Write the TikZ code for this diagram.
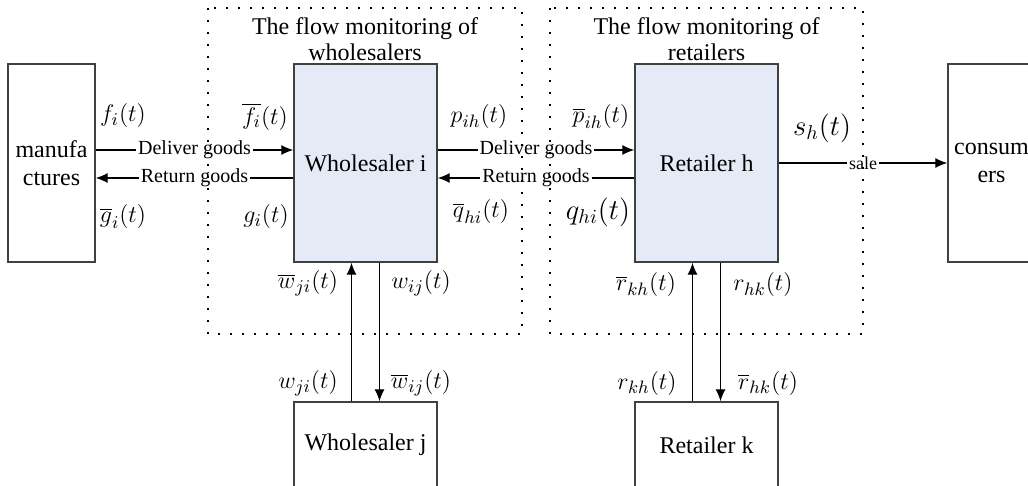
\documentclass[tikz,border=0pt]{standalone}
\usepackage{fontspec}
\setmainfont{Liberation Serif}
\usetikzlibrary{arrows.meta}

\definecolor{boxblue}{RGB}{228,235,246}
\definecolor{boxline}{RGB}{64,64,64}

\tikzset{
  unit/.style={draw=boxline,line width=0.7pt,inner sep=0pt,minimum width=71.5pt,minimum height=99pt,align=center,font=\fontsize{12}{14}\selectfont},
  endbox/.style={unit,minimum width=43.5pt},
  monbox/.style={unit,fill=boxblue},
  lowbox/.style={unit,minimum height=43pt},
  flow/.style={line width=0.6pt,-{Latex[length=6pt,width=5pt]}},
  flowtxt/.style={fill=white,inner sep=1pt,font=\fontsize{10}{12}\selectfont},
  var/.style={inner sep=0pt,font=\fontsize{13}{15}\selectfont},
  zone/.style={line width=0.9pt,dash pattern=on 0.9pt off 5.1pt},
  zonetitle/.style={align=center,font=\fontsize{12}{13}\selectfont}
}

\begin{document}
\begin{tikzpicture}[x=0.5pt,y=-0.5pt]
\useasboundingbox (0,0) rectangle (1028,486);

% boxes
\node[endbox] (manu) at (51.5,163) {manufa\\ctures};
\node[monbox] (wi) at (365.5,163) {Wholesaler i};
\node[monbox] (rh) at (706.5,163) {Retailer h};
\node[endbox] (cons) at (991.5,163) {consum\\ers};
\node[lowbox] (wj) at (365.5,445) {Wholesaler j};
\node[lowbox] (rk) at (706.5,445) {Retailer k};

% goods flows
\draw[flow] ([yshift=6.5pt]manu.east) -- node[flowtxt]{Deliver goods} ([yshift=6.5pt]wi.west);
\draw[flow] ([yshift=-7.5pt]wi.west) -- node[flowtxt]{Return goods} ([yshift=-7.5pt]manu.east);
\draw[flow] ([yshift=6.5pt]wi.east) -- node[flowtxt]{Deliver goods} ([yshift=6.5pt]rh.west);
\draw[flow] ([yshift=-7.5pt]rh.west) -- node[flowtxt]{Return goods} ([yshift=-7.5pt]wi.east);
\draw[flow] (rh.east) -- node[flowtxt,font=\fontsize{9}{11}\selectfont]{sale} (cons.west);

% vertical flows
\draw[flow] ([xshift=-7pt]wj.north) -- ([xshift=-7pt]wi.south);
\draw[flow] ([xshift=7pt]wi.south) -- ([xshift=7pt]wj.north);
\draw[flow] ([xshift=-7pt]rk.north) -- ([xshift=-7pt]rh.south);
\draw[flow] ([xshift=7pt]rh.south) -- ([xshift=7pt]rk.north);

% flow variables
\node[var] (fi) at (123,116) {$f_i(t)$};
\node[var] (fib) at (265,117) {$\overline{f_i}(t)$};
\node[var] (gib) at (123,217) {$\overline{g}_i(t)$};
\node[var] (gi) at (266,217) {$g_i(t)$};
\node[var] (pih) at (479,117) {$p_{ih}(t)$};
\node[var] (pihb) at (601,117) {$\overline{p}_{ih}(t)$};
\node[var] (qhib) at (481,212) {$\overline{q}_{hi}(t)$};
\node[var,font=\fontsize{14}{16}\selectfont] (qhi) at (598,212) {$q_{hi}(t)$};
\node[var,font=\fontsize{14}{16}\selectfont] (sh) at (822,128) {$s_h(t)$};
\node[var] (wjib) at (308,283) {$\overline{w}_{ji}(t)$};
\node[var] (wij) at (421,283) {$w_{ij}(t)$};
\node[var] (wji) at (308,383) {$w_{ji}(t)$};
\node[var] (wijb) at (421,383) {$\overline{w}_{ij}(t)$};
\node[var] (rkhb) at (646,285) {$\overline{r}_{kh}(t)$};
\node[var] (rhk) at (763,285) {$r_{hk}(t)$};
\node[var] (rkh) at (647,383) {$r_{kh}(t)$};
\node[var] (rhkb) at (768,383) {$\overline{r}_{hk}(t)$};

% monitoring zones
\draw[zone] (208,8) rectangle (522,334);
\draw[zone] (550,8) rectangle (863,334);
\node[zonetitle] (wtitle) at (365,39) {The flow monitoring of\\wholesalers};
\node[zonetitle] (rtitle) at (706.5,39) {The flow monitoring of\\retailers};

\end{tikzpicture}
\end{document}
